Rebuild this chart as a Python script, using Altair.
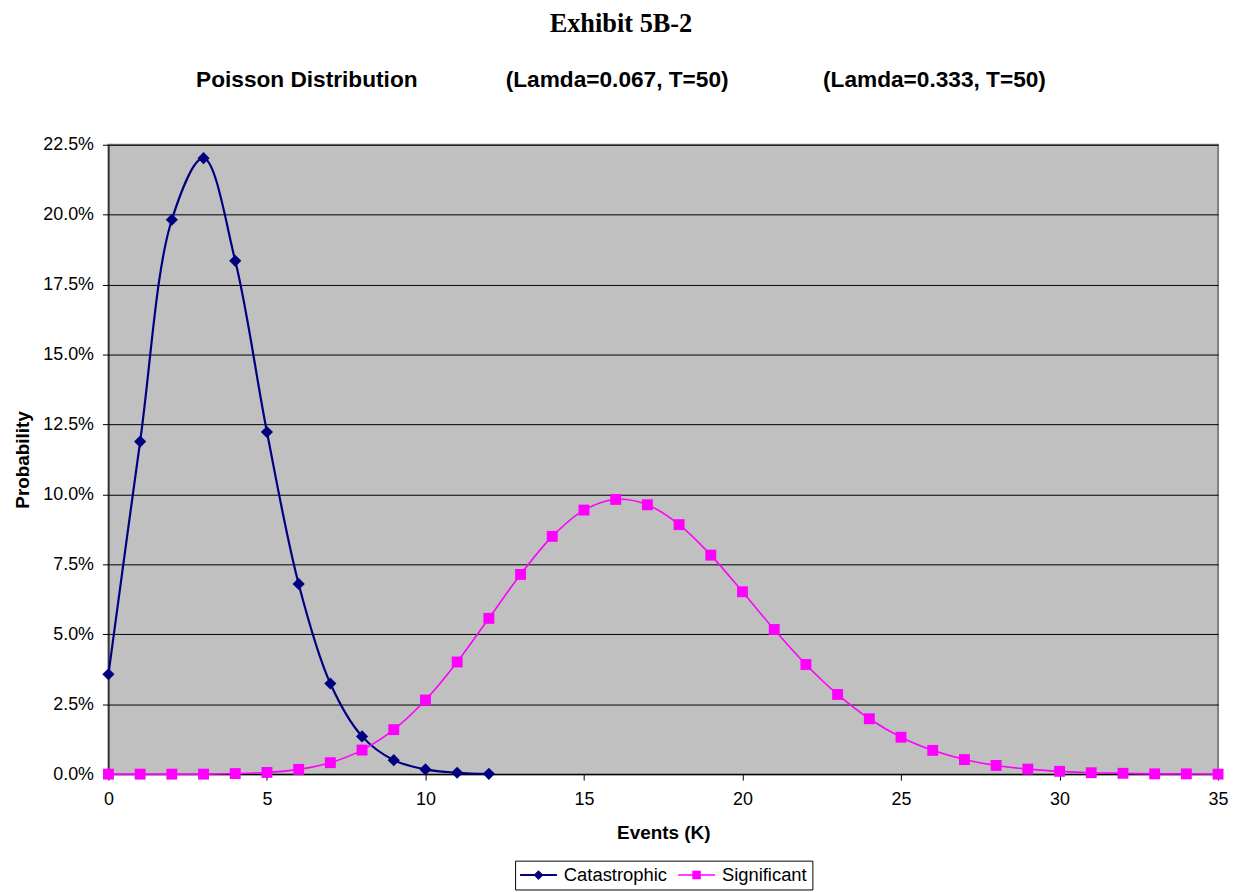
import altair as alt
import pandas as pd

# ---- data ----
events_catastrophic = [0, 1, 2, 3, 4, 5, 6, 7, 8, 9, 10, 11, 12]
prob_catastrophic = [0.0357, 0.1189, 0.1982, 0.2202, 0.1835, 0.1223, 0.0680,
                     0.0324, 0.0135, 0.0050, 0.0017, 0.0005, 0.0001]

events_significant = [0, 1, 2, 3, 4, 5, 6, 7, 8, 9, 10, 11, 12, 13, 14, 15, 16, 17,
                      18, 19, 20, 21, 22, 23, 24, 25, 26, 27, 28, 29, 30, 31, 32, 33, 34, 35]
prob_significant = [0.0000, 0.0000, 0.0000, 0.0000, 0.0002, 0.0006, 0.0017, 0.0041,
                    0.0086, 0.0159, 0.0265, 0.0401, 0.0557, 0.0714, 0.0850, 0.0944,
                    0.0982, 0.0963, 0.0892, 0.0783, 0.0652, 0.0517, 0.0392, 0.0285,
                    0.0198, 0.0132, 0.0085, 0.0052, 0.0031, 0.0018, 0.0010, 0.0005,
                    0.0003, 0.0001, 0.0001, 0.0000]

series_names = ["Catastrophic", "Significant"]
series_colors = ["#000080", "#FF00FF"]
series_shapes = ["diamond", "square"]
series_widths = [2.2, 1.6]
series_sizes = [150, 120]

x_ticks = [0, 5, 10, 15, 20, 25, 30, 35]
y_ticks = [0.0, 0.025, 0.05, 0.075, 0.10, 0.125, 0.15, 0.175, 0.20, 0.225]

title_text = "Exhibit 5B-2"
subtitle_parts = ["Poisson Distribution", "(Lamda=0.067, T=50)", "(Lamda=0.333, T=50)"]

# ---- table ----
df = pd.concat([
    pd.DataFrame({"k": events_catastrophic, "p": prob_catastrophic, "series": series_names[0]}),
    pd.DataFrame({"k": events_significant, "p": prob_significant, "series": series_names[1]}),
], ignore_index=True)

nb = "\u00a0"
subtitle_text = subtitle_parts[0] + nb * 14 + subtitle_parts[1] + nb * 15 + subtitle_parts[2]

FONT = "Liberation Sans"

color_scale = alt.Scale(domain=series_names, range=series_colors)

x_enc = alt.X(
    "k:Q",
    scale=alt.Scale(domain=[0, 35], nice=False, zero=False),
    axis=alt.Axis(
        values=x_ticks, format="d", title="Events (K)", grid=False,
        labelFont=FONT, labelFontSize=18, labelColor="black", labelPadding=11,
        titleFont=FONT, titleFontSize=19, titleFontWeight="bold", titleColor="black",
        titlePadding=15, tickColor="black", tickSize=6, domainColor="black",
        labelFlush=False,
    ),
)
y_enc = alt.Y(
    "p:Q",
    scale=alt.Scale(domain=[0, 0.225], nice=False),
    axis=alt.Axis(
        values=y_ticks, format=".1%", title="Probability", grid=True,
        gridColor="black", gridWidth=1, gridOpacity=1,
        labelFont=FONT, labelFontSize=18, labelColor="black", labelPadding=9,
        titleFont=FONT, titleFontSize=19, titleFontWeight="bold", titleColor="black",
        titlePadding=10, tickColor="black", tickSize=6, domainColor="black",
        labelFlush=False,
    ),
)

# legend symbols: a short line with the series marker in its middle
cat_path = "M-1,-0.1L2.9,-0.1L2.9,0.1L-1,0.1Z M0.95,-0.52L1.47,0L0.95,0.52L0.43,0Z"
sig_path = "M-1,-0.08L2.9,-0.08L2.9,0.08L-1,0.08Z M0.5,-0.45L1.4,-0.45L1.4,0.45L0.5,0.45Z"
symbol_expr = "datum.value == '" + series_names[0] + "' ? '" + cat_path + "' : '" + sig_path + "'"

layers = []
for name, col, w in zip(series_names, series_colors, series_widths):
    layers.append(
        alt.Chart(df).transform_filter(alt.datum.series == name)
        .mark_line(interpolate="catmull-rom", color=col, strokeWidth=w)
        .encode(x=x_enc, y=y_enc)
    )
for name, col, shp, sz in zip(series_names, series_colors, series_shapes, series_sizes):
    layers.append(
        alt.Chart(df).transform_filter(alt.datum.series == name)
        .mark_point(filled=True, shape=shp, size=sz, color=col, opacity=1)
        .encode(x=x_enc, y=y_enc)
    )

# invisible layer that only carries the legend
legend_layer = alt.Chart(df).mark_point(filled=True, opacity=0, size=10).encode(
    x=x_enc,
    y=y_enc,
    color=alt.Color(
        "series:N", scale=color_scale,
        legend=alt.Legend(
            title=None, orient="none", legendX=409, legendY=720, direction="horizontal",
            symbolType={"expr": symbol_expr}, symbolSize=361, symbolStrokeWidth=0,
            symbolOpacity=1, labelOffset=25, columnPadding=11, padding=5,
            strokeColor="black", labelFont=FONT, labelFontSize=18.5, labelColor="black",
        ),
    ),
)
layers.append(legend_layer)

chart = alt.layer(*layers).properties(
    width=1116,
    height=633,
    padding={"left": 5, "top": 0, "right": 0, "bottom": 0},
    background="white",
    title=alt.TitleParams(
        text=title_text, subtitle=subtitle_text,
        font="Liberation Serif", fontSize=26.5, fontWeight="bold", color="black",
        subtitleFont=FONT, subtitleFontSize=22.8, subtitleFontWeight="bold",
        subtitleColor="black", subtitlePadding=32, offset=44,
        anchor="middle", frame="bounds",
    ),
).configure_view(
    fill="#C0C0C0", stroke="#808080", strokeWidth=2,
)

chart.save("out.html", embed_options={"renderer": "svg", "actions": False})
